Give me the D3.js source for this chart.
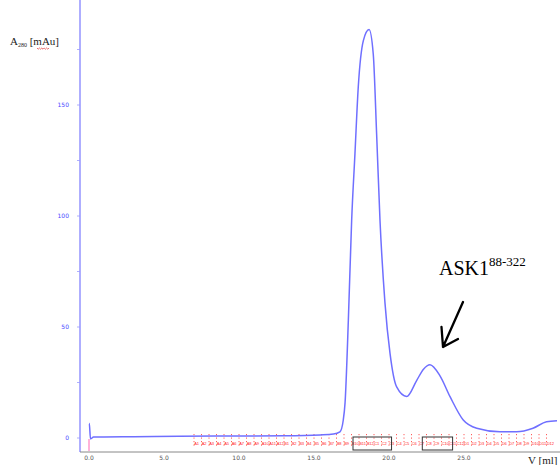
<!DOCTYPE html>
<html>
<head>
<meta charset="utf-8">
<script src="https://cdn.jsdelivr.net/npm/d3@7"></script>
<style>
  body { margin: 0; background: #fff; }
  svg { display: block; }
</style>
</head>
<body>
<svg width="560" height="465"></svg>
<script>
// elution volume (ml) and absorbance (mAu)
var vol = [0, 0.02, 0.1, 0.3, 1, 3, 6, 10, 13, 15.4, 16.3, 16.73, 16.95, 17.07, 17.29, 17.51, 17.73, 17.95,
    18.29, 18.67, 18.95, 19.18, 19.4, 19.73, 20.07, 20.51, 21.18, 21.85, 22.3, 22.73, 23.4, 24.07,
    24.95, 25.85, 27.4, 28.5, 29.6, 30.5, 31.2]
var abs = [6.5, 6.5, -0.4, 0.4, 0.5, 0.6, 0.8, 0.9, 1.0, 1.4, 1.8, 2.8, 8, 15.8, 53, 98, 128, 158,
    179, 184, 173, 136, 98, 61, 38, 23, 18.7, 26, 31, 33, 28, 18.6,
    8.1, 4.4, 2.8, 2.8, 4.4, 7.3, 7.8]

var yTicks = [0, 50, 100, 150]
var yMinor = [25, 75, 125, 175]
var xTicks = [0, 5, 10, 15, 20, 25]

// fraction collector labels
var fracLabels = ["A1", "A2", "A3", "A4", "A5", "A6", "A7", "A8", "A9", "A10", "A11", "A12",
    "B1", "B2", "B3", "B4", "B5", "B6", "B7", "B8", "B9", "B10", "B11", "B12",
    "C1", "C2", "C3", "C4", "C5", "C6", "C7", "C8", "C9", "C10", "C11", "C12",
    "D1", "D2", "D3", "D4", "D5", "D6", "D7", "D8", "D9", "D10", "D11", "D12"]
var fracStart = 7.0, fracWidth = 0.5

// pooled fractions (boxes)
var pools = [[17.6, 20.17], [22.22, 24.24]]

var svg = d3.select("svg")

var scX = d3.scaleLinear().domain([0, 25]).range([89, 464]),
    scY = d3.scaleLinear().domain([0, 150]).range([438, 105])

// fraction marks
var fr = svg.append("g")
fracLabels.forEach(function (lab, i) {
    var v = fracStart + i * fracWidth
    if (scX(v) > 556) return
    fr.append("line").attr("x1", scX(v)).attr("x2", scX(v))
        .attr("y1", 434).attr("y2", 448)
        .attr("stroke", "#ff4848").attr("stroke-width", 0.9)
        .attr("stroke-dasharray", "1.2,2.3")
    fr.append("text").attr("x", scX(v) + 0.2).attr("y", 445)
        .attr("font-family", "Liberation Sans").attr("font-size", 4)
        .attr("fill", "#ff1a1a").text(lab)
})

// injection mark
svg.append("line").attr("x1", scX(0)).attr("x2", scX(0))
    .attr("y1", 439).attr("y2", 451)
    .attr("stroke", "#ff80c0").attr("stroke-width", 1.2)

// pooled boxes
svg.selectAll("rect.pool").data(pools).enter().append("rect")
    .attr("class", "pool")
    .attr("x", d => scX(d[0])).attr("width", d => scX(d[1]) - scX(d[0]))
    .attr("y", 437).attr("height", 13)
    .attr("fill", "none").attr("stroke", "#333").attr("stroke-width", 1)

// y axis
svg.append("line").attr("x1", 80).attr("x2", 80).attr("y1", 0).attr("y2", 452)
    .attr("stroke", "#7878ff").attr("stroke-width", 1.2)
svg.selectAll("line.ymaj").data(yTicks.concat(yMinor)).enter().append("line")
    .attr("class", "ymaj")
    .attr("x1", 77).attr("x2", 80).attr("y1", d => scY(d)).attr("y2", d => scY(d))
    .attr("stroke", "#9a9aff").attr("stroke-width", 0.8)
svg.selectAll("text.ylab").data(yTicks).enter().append("text")
    .attr("class", "ylab")
    .attr("x", 69).attr("y", d => scY(d) + 2)
    .attr("text-anchor", "end")
    .attr("font-family", "DejaVu Sans").attr("font-size", 6)
    .attr("fill", "#4848ff").text(d => d)

// x axis
svg.append("line").attr("x1", 80).attr("x2", 560).attr("y1", 452).attr("y2", 452)
    .attr("stroke", "#888").attr("stroke-width", 1)
svg.selectAll("text.xlab").data(xTicks).enter().append("text")
    .attr("class", "xlab")
    .attr("x", d => scX(d)).attr("y", 460)
    .attr("text-anchor", "middle")
    .attr("font-family", "DejaVu Sans").attr("font-size", 6)
    .attr("fill", "#555").text(d => d.toFixed(1))

// trace
var line = d3.line()
    .x((d, i) => scX(vol[i])).y(d => scY(d))
    .curve(d3.curveMonotoneX)
svg.append("path").datum(abs).attr("d", line)
    .attr("fill", "none").attr("stroke", "#6f6fff").attr("stroke-width", 1.5)

// axis titles
var ya = svg.append("text").attr("x", 10).attr("y", 45)
    .attr("font-family", "Liberation Serif").attr("font-size", 11).attr("fill", "#222")
ya.append("tspan").text("A")
ya.append("tspan").attr("font-size", 6).attr("dy", 1.5).text("280")
ya.append("tspan").attr("dy", -1.5).text(" [mAu]")
var wave = "M37,48"
for (var i = 0; i < 10; i++) wave += " l1.2," + (i % 2 ? -1.2 : 1.2)
svg.append("path").attr("d", wave).attr("fill", "none")
    .attr("stroke", "#e03030").attr("stroke-width", 0.7)

svg.append("text").attr("x", 528).attr("y", 464)
    .attr("font-family", "Liberation Serif").attr("font-size", 11).attr("fill", "#222")
    .text("V [ml]")

// annotation
var ann = svg.append("text").attr("x", 439).attr("y", 275)
    .attr("font-family", "Liberation Serif").attr("font-size", 20).attr("fill", "#000")
ann.append("tspan").text("ASK1")
ann.append("tspan").attr("font-size", 13).attr("dy", -9).text("88-322")

svg.append("path").attr("d", "M463,302 L443,347 M441.5,327 L443,347 L458,339")
    .attr("fill", "none").attr("stroke", "#000").attr("stroke-width", 2.3)
    .attr("stroke-linecap", "round").attr("stroke-linejoin", "round")
</script>
</body>
</html>
